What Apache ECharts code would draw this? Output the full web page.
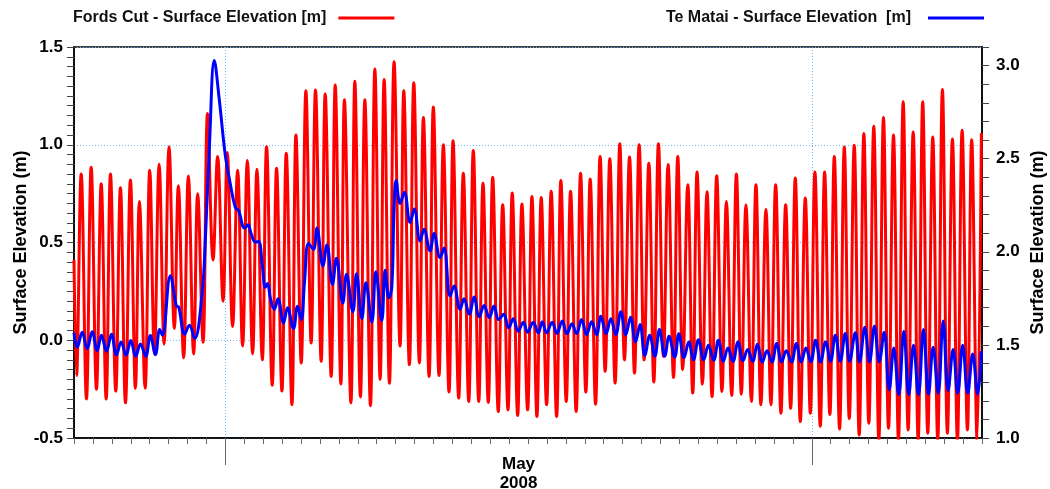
<!DOCTYPE html>
<html>
<head>
<meta charset="utf-8">
<script src="https://cdn.jsdelivr.net/npm/echarts@6/dist/echarts.min.js"></script>
<style>
html,body{margin:0;padding:0;background:#fff;}
#chart{width:1050px;height:489px;}
</style>
</head>
<body>
<div id="chart"></div>
<script>
// ---- time frame (x axis in hours since 23 Apr 2008 00:00) ----
const HOUR = 3600 * 1000;
const startDate = Date.UTC(2008, 3, 23);
const endDate = Date.UTC(2008, 5, 10);
const toHours = (ms) => (ms - startDate) / HOUR;
const xMax = toHours(endDate);
const monthStarts = [toHours(Date.UTC(2008, 4, 1)), toHours(Date.UTC(2008, 5, 1))];
const monthLabelAt = [toHours(Date.UTC(2008, 4, 16, 12))];
const monthLabels = ['May\n2008'];

// ---- series names ----
const seriesNames = ['Fords Cut - Surface Elevation [m]', 'Te Matai - Surface Elevation  [m]'];

// ---- Fords Cut (left axis): hours since start, level (m) at successive high/low waters ----
const fordsHours = [0,3.2,9.1,15.8,21.8,28.5,34.5,40.8,46.3,53.0,58.9,65.3,71.6,77.9,83.0,90.2,96.1,102.0,108.0,114.3,120.6,127.3,132.4,139.1,145.1,151.8,156.9,163.7,169.5,176.4,182.2,189.1,194.5,201.2,207.6,213.9,219.9,226.6,232.1,238.9,244.3,251.5,257.0,263.8,269.3,276.5,281.6,288.3,294.2,300.9,306.4,313.6,318.7,326.3,331.4,338.6,343.1,351.3,356.3,363.4,369.0,376.1,381.7,388.4,393.5,400.2,406.1,413.7,418.4,425.5,431.1,438.2,443.3,450.5,455.9,463.1,468.6,475.8,480.9,488.1,493.9,500.8,506.6,513.5,518.9,525.6,531.2,538.3,543.9,550.6,556.0,562.9,568.3,575.5,581.0,587.3,592.8,599.6,605.4,612.3,617.7,624.5,630.0,637.1,642.7,649.4,654.9,661.7,667.5,673.9,679.8,686.5,692.5,698.4,704.8,711.1,717.0,723.3,729.3,735.6,741.5,747.9,753.7,760.6,766.0,772.3,778.7,785.0,790.5,797.3,803.1,809.5,815.4,822.1,827.7,834.4,840.4,846.7,852.5,859.4,865.2,871.5,877.9,884.2,890.2,896.9,902.9,909.2,915.1,921.5,927.8,934.2,940.0,946.8,952.3,959.0,964.6,971.3,977.3,983.6,989.9,996.2,1002.1,1008.4,1014.7,1021.1,1027.0,1033.4,1039.7,1046.0,1052.0,1058.3,1064.7,1071.0,1076.8,1083.2,1089.5,1095.8,1101.8,1108.1,1114.5,1120.8,1126.8,1133.5,1138.9,1145.8,1151.2];
const fordsLevel = [0.41,-0.18,0.85,-0.30,0.885,-0.25,0.80,-0.30,0.85,-0.26,0.78,-0.32,0.82,-0.245,0.71,-0.245,0.87,-0.07,0.90,-0.02,0.99,0.06,0.79,-0.09,0.84,-0.07,0.75,-0.01,1.16,0.41,0.94,0.20,0.96,0.07,0.87,-0.03,0.92,-0.07,0.875,-0.10,0.99,-0.23,0.88,-0.26,0.957,-0.33,1.05,-0.116,1.276,-0.014,1.28,-0.108,1.26,-0.185,1.305,-0.224,1.23,-0.32,1.325,-0.29,1.23,-0.335,1.387,-0.20,1.334,-0.22,1.425,-0.03,1.276,-0.125,1.317,-0.116,1.139,-0.185,1.193,-0.18,1.0,-0.265,1.02,-0.296,0.854,-0.313,0.97,-0.313,0.803,-0.318,0.834,-0.365,0.693,-0.356,0.753,-0.385,0.697,-0.356,0.735,-0.39,0.73,-0.33,0.762,-0.39,0.817,-0.313,0.762,-0.365,0.854,-0.265,0.825,-0.327,0.94,-0.159,0.928,-0.219,1.005,-0.10,0.937,-0.168,1.0,-0.10,0.906,-0.214,1.005,-0.082,0.899,-0.19,0.94,-0.15,0.796,-0.27,0.86,-0.224,0.76,-0.288,0.842,-0.262,0.71,-0.283,0.85,-0.276,0.693,-0.313,0.796,-0.33,0.67,-0.33,0.796,-0.373,0.693,-0.348,0.83,-0.416,0.728,-0.373,0.86,-0.44,0.86,-0.38,0.94,-0.454,0.988,-0.40,0.997,-0.485,1.057,-0.425,1.094,-0.51,1.139,-0.45,1.05,-0.51,1.22,-0.459,1.065,-0.51,1.22,-0.476,1.04,-0.51,1.283,-0.476,1.03,-0.51,1.074,-0.459,1.026,-0.51,1.06];

// ---- Te Matai (right axis): hours since start, level (m) ----
const mataiHours = [0,4.1,10.4,16.7,23.1,29.4,34.8,41.2,47.5,53.9,59.8,66.1,72.0,78.3,84.3,91.0,96.9,103.3,108.7,112.1,122.3,129.9,132.8,140.4,146.4,153.1,162.4,166.6,172.1,178.0,184.4,192.0,198.3,204.6,208.8,216.4,220.7,224.9,230.0,234.2,239.2,242.7,245.6,249.0,254.1,258.8,265.9,270.9,278.5,283.6,288.3,292.5,297.5,303.9,308.2,315.8,320.9,327.9,333.0,341.1,345.7,353.8,358.4,365.2,370.3,377.9,382.9,390.5,394.7,399.4,403.2,406.1,408.7,413.7,419.2,426.4,431.8,439.1,444.1,451.7,456.8,464.4,469.5,477.1,482.2,489.8,494.8,501.6,507.5,514.2,520.2,526.9,532.8,538.8,545.1,551.5,557.3,563.6,570.0,575.5,582.6,589.0,594.1,599.6,606.7,612.7,619.4,625.3,631.7,637.6,644.0,650.3,656.6,663.0,668.4,675.1,681.1,687.4,693.8,700.1,706.1,712.4,718.2,724.2,730.5,736.9,742.8,749.5,755.0,762.2,767.3,774.0,780.0,785.9,792.2,799.0,804.9,811.6,817.6,823.9,829.7,836.1,842.4,848.8,854.7,861.1,867.0,873.3,879.2,885.5,891.5,897.8,903.7,910.4,916.4,922.7,928.6,934.9,940.9,947.2,953.6,959.9,965.9,972.2,978.5,984.0,991.2,996.6,1003.3,1009.3,1015.6,1021.6,1027.9,1034.3,1040.1,1046.4,1052.8,1059.1,1065.1,1071.4,1077.7,1084.1,1090.0,1096.4,1102.7,1109.0,1115.4,1121.2,1127.5,1133.9,1140.2,1146.5,1151.2];
const mataiLevel = [1.565,1.487,1.568,1.480,1.570,1.469,1.552,1.466,1.557,1.447,1.516,1.444,1.523,1.439,1.505,1.439,1.550,1.447,1.583,1.552,1.872,1.709,1.704,1.557,1.606,1.534,1.772,2.061,2.596,3.027,2.814,2.517,2.365,2.239,2.221,2.128,2.145,2.095,2.053,2.055,1.916,1.809,1.830,1.753,1.691,1.748,1.618,1.699,1.588,1.708,1.636,1.840,2.045,2.014,2.128,1.924,2.037,1.825,1.966,1.725,1.879,1.678,1.882,1.641,1.834,1.622,1.893,1.630,1.901,1.753,1.809,2.239,2.383,2.260,2.320,2.158,2.230,2.059,2.121,2.005,2.098,1.969,2.020,1.762,1.816,1.691,1.748,1.664,1.757,1.651,1.712,1.646,1.709,1.636,1.664,1.591,1.641,1.573,1.622,1.568,1.622,1.565,1.624,1.565,1.622,1.561,1.628,1.560,1.613,1.560,1.636,1.555,1.624,1.555,1.654,1.560,1.641,1.555,1.678,1.555,1.649,1.516,1.609,1.444,1.552,1.439,1.583,1.439,1.547,1.434,1.560,1.431,1.515,1.420,1.528,1.420,1.498,1.417,1.525,1.412,1.483,1.412,1.516,1.415,1.475,1.412,1.504,1.408,1.469,1.408,1.507,1.408,1.469,1.408,1.507,1.408,1.483,1.408,1.525,1.408,1.516,1.412,1.552,1.412,1.561,1.412,1.565,1.408,1.595,1.408,1.601,1.408,1.568,1.259,1.483,1.232,1.573,1.232,1.498,1.232,1.583,1.235,1.487,1.241,1.628,1.254,1.475,1.241,1.498,1.241,1.451,1.235,1.465];

// ---- axis ranges ----
const leftAxisRange = [-0.5, 1.5];
const rightAxisRange = [1.0, 3.1];

const toPairs = (hours, levels) => hours.slice(0, Math.min(hours.length, levels.length)).map((h, i) => [h, levels[i]]);
const fordsData = toPairs(fordsHours, fordsLevel);
const mataiData = toPairs(mataiHours, mataiLevel);

const FONT = "'Liberation Sans', Arial, Helvetica, sans-serif";
const GRID_COLOR = '#73b9ff';

const chart = echarts.init(document.getElementById('chart'), null, {renderer: 'canvas'});
chart.setOption({
  animation: false,
  backgroundColor: '#ffffff',
  textStyle: {fontFamily: FONT},
  grid: {
    left: 74, right: 68, top: 47, bottom: 51, containLabel: false, outerBoundsMode: 'none',
    show: true, borderColor: '#444', borderWidth: 2, backgroundColor: 'transparent'
  },
  legend: [
    {
      data: [seriesNames[0]], left: 73, top: 10, padding: 0, align: 'right', icon: 'rect',
      itemWidth: 56, itemHeight: 3, selectedMode: false,
      textStyle: {fontFamily: FONT, fontSize: 16, fontWeight: 'bold', color: '#111', padding: [0, 7, 0, 0]}
    },
    {
      data: [seriesNames[1]], right: 66, top: 10, padding: 0, align: 'right', icon: 'rect',
      itemWidth: 56, itemHeight: 3, selectedMode: false,
      textStyle: {fontFamily: FONT, fontSize: 16, fontWeight: 'bold', color: '#111', padding: [0, 12, 0, 0]}
    }
  ],
  xAxis: [
    {
      type: 'value', min: 0, max: xMax, position: 'bottom',
      axisLine: {show: true, onZero: false, lineStyle: {color: '#000', width: 1.5}},
      axisTick: {show: true, customValues: monthStarts, length: 27, lineStyle: {color: '#666', width: 1}},
      axisLabel: {
        customValues: monthLabelAt,
        formatter: (v) => { const i = monthLabelAt.indexOf(v); return i >= 0 ? monthLabels[i] : ''; },
        fontFamily: FONT, fontSize: 17, fontWeight: 'bold', color: '#000', lineHeight: 19, margin: 17
      },
      splitLine: {show: true, lineStyle: {color: GRID_COLOR, type: [1, 2], width: 1}}
    },
    {
      type: 'value', min: 0, max: xMax, interval: 24, position: 'bottom',
      axisLine: {show: false, onZero: false},
      axisTick: {show: true, length: 6, lineStyle: {color: '#666', width: 1}},
      axisLabel: {show: false},
      splitLine: {show: false}
    }
  ],
  yAxis: [
    {
      type: 'value', position: 'left', min: leftAxisRange[0], max: leftAxisRange[1], interval: 0.5,
      name: 'Surface Elevation (m)', nameLocation: 'middle', nameRotate: 90, nameGap: 44, nameMoveOverlap: false,
      nameTextStyle: {fontFamily: FONT, fontSize: 18, fontWeight: 'bold', color: '#000'},
      axisLine: {show: true, onZero: false, lineStyle: {color: '#000', width: 1.5}},
      axisTick: {show: true, length: 7, lineStyle: {color: '#444'}},
      minorTick: {show: true, splitNumber: 10, length: 7, lineStyle: {color: '#444'}},
      axisLabel: {fontFamily: FONT, fontSize: 17, fontWeight: 'bold', color: '#000', margin: 11, formatter: (v) => v.toFixed(1)},
      splitLine: {show: true, lineStyle: {color: GRID_COLOR, type: [1, 2], width: 1}}
    },
    {
      type: 'value', position: 'right', min: rightAxisRange[0], max: rightAxisRange[1], interval: 0.1,
      name: 'Surface Elevation (m)', nameLocation: 'middle', nameRotate: 90, nameGap: 47, nameMoveOverlap: false,
      nameTextStyle: {fontFamily: FONT, fontSize: 18, fontWeight: 'bold', color: '#000'},
      axisLine: {show: true, onZero: false, lineStyle: {color: '#000', width: 1.5}},
      axisTick: {show: true, length: 7, lineStyle: {color: '#444'}},
      axisLabel: {
        interval: 0, fontFamily: FONT, fontSize: 17, fontWeight: 'bold', color: '#000', margin: 14,
        formatter: (v) => { const r = Math.round(v * 10); return r % 5 === 0 ? (r / 10).toFixed(1) : ''; }
      },
      splitLine: {show: false}
    }
  ],
  series: [
    {
      name: seriesNames[0], type: 'line', xAxisIndex: 0, yAxisIndex: 0, data: fordsData,
      symbol: 'none', showSymbol: false, smooth: 0.4,
      lineStyle: {color: '#ff0000', width: 3}, itemStyle: {color: '#ff0000'}, z: 2
    },
    {
      name: seriesNames[1], type: 'line', xAxisIndex: 0, yAxisIndex: 1, data: mataiData,
      symbol: 'none', showSymbol: false, smooth: 0.4,
      lineStyle: {color: '#0000ff', width: 3}, itemStyle: {color: '#0000ff'}, z: 3
    }
  ]
});
</script>
</body>
</html>
